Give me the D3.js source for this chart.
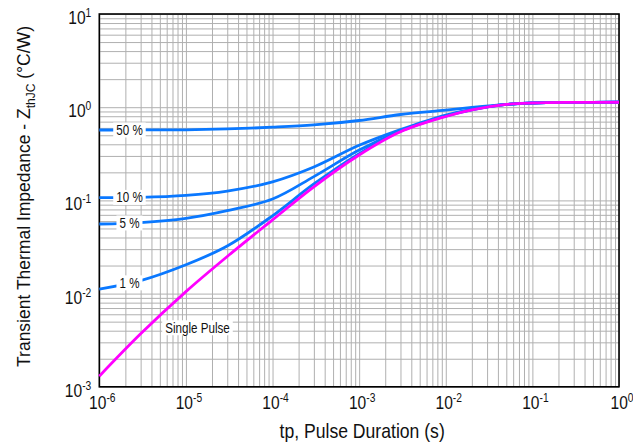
<!DOCTYPE html>
<html>
<head>
<meta charset="utf-8">
<script src="https://cdn.jsdelivr.net/npm/d3@7/dist/d3.min.js"></script>
<style>
  html, body { margin: 0; padding: 0; background: #fff; }
  svg { display: block; }
</style>
</head>
<body>
<svg id="chart" width="633" height="446"></svg>
<script>
// ---- data ----
const tp = [1e-6, 3e-6, 1e-5, 3e-5, 1e-4, 3e-4, 1e-3, 3e-3, 1e-2, 2e-2, 5e-2, 1e-1, 3e-1, 1];
const duty50 = [0.569, 0.570, 0.572, 0.585, 0.610, 0.645, 0.720, 0.835, 0.930, 0.995, 1.072, 1.110, 1.127, 1.130];
const duty10 = [0.107, 0.108, 0.1135, 0.126, 0.158, 0.228, 0.390, 0.575, 0.825, 0.945, 1.070, 1.110, 1.127, 1.130];
const duty5  = [0.0558, 0.0578, 0.0641, 0.0776, 0.1035, 0.180, 0.347, 0.556, 0.810, 0.940, 1.070, 1.110, 1.127, 1.130];
const duty1  = [0.0112, 0.0138, 0.0204, 0.0324, 0.0684, 0.150, 0.318, 0.552, 0.802, 0.938, 1.070, 1.110, 1.127, 1.130];
const singlePulse = [0.0013, 0.0037, 0.0105, 0.0250, 0.0618, 0.140, 0.307, 0.545, 0.795, 0.935, 1.070, 1.110, 1.127, 1.130];

const seriesNames = ["50 %", "10 %", "5 %", "1 %", "Single Pulse"];
const seriesValues = [duty50, duty10, duty5, duty1, singlePulse];
const labelTp = [2.23e-6, 2.23e-6, 2.23e-6, 2.23e-6, 1.36e-5];
const labelZ = [null, null, null, null, 0.0043];

const xTickValues = [1e-6, 1e-5, 1e-4, 1e-3, 1e-2, 1e-1, 1];
const xTickSup = ["-6", "-5", "-4", "-3", "-2", "-1", "0"];
const yTickValues = [1e-3, 1e-2, 1e-1, 1, 10];
const yTickSup = ["-3", "-2", "-1", "0", "1"];

const xTitle = "tp, Pulse Duration (s)";
const yTitleMain = "Transient Thermal Impedance - Z";
const yTitleSub = "thJC";
const yTitleEnd = " (°C/W)";

// ---- layout ----
const svg = d3.select("#chart");
const L = 99.3, R = 619, T = 14, B = 386.8;
const font = "'Liberation Sans', Arial, Helvetica, sans-serif";

const x = d3.scaleLog().domain([1e-6, 1]).range([L, R]);
const y = d3.scaleLog().domain([1e-3, 10]).range([B, T]);

// condensed text helper (horizontal squeeze)
function narrowText(parent, px, py, anchor, size, sx) {
  const g = parent.append("g").attr("transform", `translate(${px},${py}) scale(${sx},1)`);
  return g.append("text")
    .attr("x", 0).attr("y", 0)
    .attr("text-anchor", anchor)
    .attr("font-family", font)
    .attr("font-size", size)
    .attr("fill", "#111");
}

// grid
const grid = svg.append("g");
grid.append("g")
  .attr("transform", `translate(0,${B})`)
  .call(d3.axisBottom(x).ticks(10).tickSize(-(B - T)).tickFormat(""))
  .call(g => g.select(".domain").remove())
  .call(g => g.selectAll("line").attr("stroke", "#b0b0b0").attr("stroke-width", 1));
grid.append("g")
  .attr("transform", `translate(${L},0)`)
  .call(d3.axisLeft(y).ticks(10).tickSize(-(R - L)).tickFormat(""))
  .call(g => g.select(".domain").remove())
  .call(g => g.selectAll("line").attr("stroke", "#b0b0b0").attr("stroke-width", 1));

// frame
svg.append("rect")
  .attr("x", L).attr("y", T).attr("width", R - L).attr("height", B - T)
  .attr("fill", "none").attr("stroke", "#000").attr("stroke-width", 1.6);

// curves
const line = d3.line()
  .x(d => x(d[0]))
  .y(d => y(d[1]))
  .curve(d3.curveCatmullRom.alpha(0.5));

const colors = ["#0a78ff", "#0a78ff", "#0a78ff", "#0a78ff", "#ff00ff"];
seriesValues.forEach((vals, i) => {
  svg.append("path")
    .datum(tp.map((t, k) => [t, vals[k]]))
    .attr("fill", "none")
    .attr("stroke", colors[i])
    .attr("stroke-width", 2.8)
    .attr("stroke-linejoin", "round")
    .attr("d", line);
});

// interpolate a curve value in log space
function interpLog(vals, t) {
  const lt = Math.log10(t);
  for (let k = 0; k < tp.length - 1; k++) {
    const a = Math.log10(tp[k]), b = Math.log10(tp[k + 1]);
    if (lt >= a && lt <= b) {
      const f = (lt - a) / (b - a);
      return Math.pow(10, Math.log10(vals[k]) * (1 - f) + Math.log10(vals[k + 1]) * f);
    }
  }
  return vals[0];
}

// series labels
seriesNames.forEach((name, i) => {
  const z = labelZ[i] != null ? labelZ[i] : interpLog(seriesValues[i], labelTp[i]);
  const cx = x(labelTp[i]), cy = y(z);
  const g = svg.append("g");
  const rect = g.append("rect").attr("fill", "#fff");
  const txt = narrowText(g, cx, cy + 5, "middle", 14, 0.83).text(name);
  const w = txt.node().getBBox().width * 0.83;
  rect.attr("x", cx - w / 2 - 3).attr("y", cy - 7.5).attr("width", w + 6).attr("height", 15);
});

// x tick labels
const xl = svg.append("g");
xTickValues.forEach((v, i) => {
  const t = narrowText(xl, x(v) + 3, B + 22.5, "middle", 19, 0.82);
  t.append("tspan").text("10");
  t.append("tspan").attr("font-size", 12.5).attr("dy", -7).text(xTickSup[i]);
});

// y tick labels
const yl = svg.append("g");
yTickValues.forEach((v, i) => {
  const t = narrowText(yl, L - 8, y(v) + 10, "end", 19, 0.82);
  t.append("tspan").text("10");
  t.append("tspan").attr("font-size", 12.5).attr("dy", -7).text(yTickSup[i]);
});

// x title
narrowText(svg, (L + R) / 2 + 3, 438, "middle", 20, 0.88).text(xTitle);

// y title
const yt = svg.append("text")
  .attr("transform", "translate(30,196.5) rotate(-90)")
  .attr("text-anchor", "middle")
  .attr("font-family", font)
  .attr("font-size", 17.5)
  .attr("fill", "#111");
yt.append("tspan").text(yTitleMain);
yt.append("tspan").attr("font-size", 12).attr("dy", 5).text(yTitleSub);
yt.append("tspan").attr("dy", -5).text(yTitleEnd);
</script>
</body>
</html>
